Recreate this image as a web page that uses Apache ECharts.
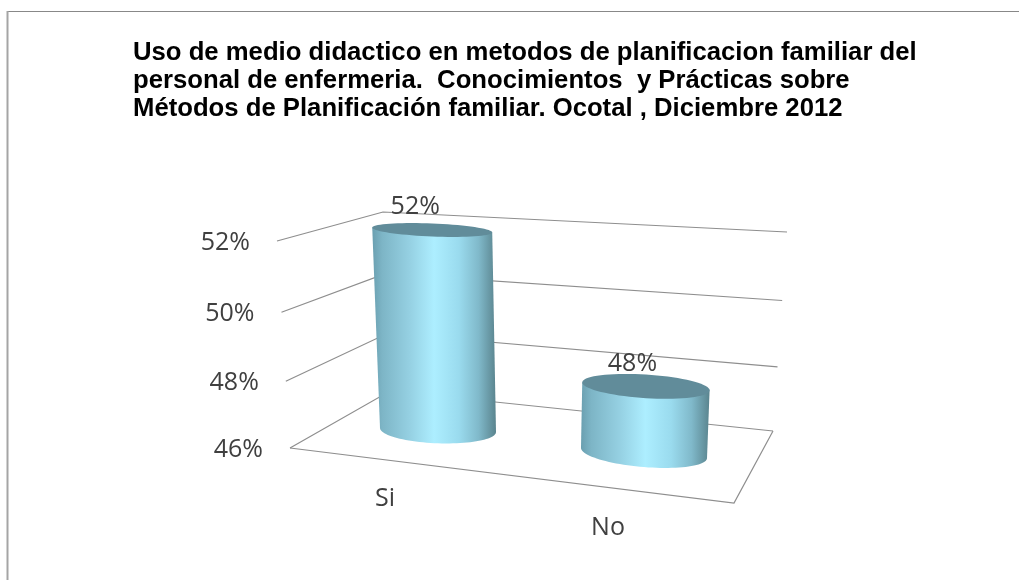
<!DOCTYPE html>
<html><head><meta charset="utf-8">
<style>html,body{margin:0;padding:0;background:#fff}#c{width:1019px;height:580px}</style>
<script src="https://cdn.jsdelivr.net/npm/echarts@6/dist/echarts.min.js"></script>
</head><body><div id="c"></div>
<script>
var titleLines = [
  'Uso de medio didactico en metodos de planificacion familiar del',
  'personal de enfermeria.  Conocimientos  y Prácticas sobre',
  'Métodos de Planificación familiar. Ocotal , Diciembre 2012'
];
var categories = ['Si', 'No'];
var values = [52, 48];
var ticks = [46, 48, 50, 52];
var tickLabels = ['46%', '48%', '50%', '52%'];

// layout of the projected walls (pixels) at the axis minimum and maximum
var WALL = {
  front: [[290, 448], [277, 241]],
  back:  [[390, 391], [383, 212]],
  right: [[773, 431], [787, 232]],
  floorFront: [734, 503]
};
var GRID = {left: 335, top: 241.5, width: 412, height: 200};
var LABEL_FONT = '"Open Sans", sans-serif';
var DATA_OFFSET = [[-17, -23], [-13.5, -22]];
var CAT_OFFSET = [[-53, 69], [-36, 74.5]];
var CX = GRID.left + GRID.width / 2, BOTTOM = GRID.top + GRID.height;

function wallPoint(edge, t) {
  var s = t / (1 + 0.05 * (1 - t));
  return [edge[0][0] + (edge[1][0] - edge[0][0]) * s, edge[0][1] + (edge[1][1] - edge[0][1]) * s];
}
function project(p) {
  var h = BOTTOM - p[1], dx = p[0] - CX;
  return {x: p[0] + 0.00028 * dx * h, y: p[1] + 0.1117 * dx, h: h, dx: dx};
}
function arc(c, a, b, s, from, to, n) {
  var out = [];
  for (var i = 0; i <= n; i++) {
    var th = from + (to - from) * i / n;
    out.push([c.x + a * Math.cos(th), c.y + b * Math.sin(th) + s * a * Math.cos(th)]);
  }
  return out;
}
function halfWidth(q, baseDx) { return 60.5 + 0.0243 * baseDx + 0.01 * q.h; }
function halfDepth(y) { return 6.5 + (y - 230) * 0.034; }

function renderWall(params, api) {
  var v = api.value(1);
  var y = api.coord([0, v])[1];
  var t = (BOTTOM - y) / GRID.height;
  var f = wallPoint(WALL.front, t), b = wallPoint(WALL.back, t), r = wallPoint(WALL.right, t);
  var lineStyle = {stroke: '#8e8e8e', lineWidth: 1.2, fill: null};
  var children = [
    {type: 'polyline', shape: {points: [f, b, r]}, style: lineStyle},
    {type: 'text', style: {
      text: tickLabels[params.dataIndex], x: f[0] - 27, y: f[1] + 2,
      align: 'right', verticalAlign: 'middle',
      font: '25px ' + LABEL_FONT, fill: '#404040'
    }}
  ];
  if (params.dataIndex === 0) {
    children.push({type: 'polyline', shape: {points: [f, WALL.floorFront, r]}, style: lineStyle});
  }
  return {type: 'group', children: children};
}

function renderCylinder(params, api) {
  var i = params.dataIndex;
  var cat = api.value(0), v = api.value(1);
  var baseP = project(api.coord([cat, ticks[0]]));
  var topP = project(api.coord([cat, v]));
  var aB = halfWidth(baseP, baseP.dx), aT = halfWidth(topP, baseP.dx);
  var sB = 0.035 + 0.045 * i, sT = 0.04 + 0.022 * i;
  var bB = halfDepth(baseP.y), bT = halfDepth(topP.y);
  var topEdge = arc(topP, aT, bT, sT, Math.PI, 0, 1);
  var body = topEdge.concat(arc(baseP, aB, bB, sB, 0, Math.PI, 48));
  var grad = new echarts.graphic.LinearGradient(0, 0, 1, 0, [
    {offset: 0, color: '#6a9fb0'},
    {offset: 0.08, color: '#7db5c6'},
    {offset: 0.3, color: '#95d0e2'},
    {offset: 0.5, color: '#adeeff'},
    {offset: 0.7, color: '#9adbee'},
    {offset: 0.86, color: '#80b9ca'},
    {offset: 1, color: '#5a848e'}
  ]);
  var off = DATA_OFFSET[i], co = CAT_OFFSET[i];
  return {type: 'group', children: [
    {type: 'polygon', shape: {points: body}, style: {fill: grad}},
    {type: 'polygon', shape: {points: arc(topP, aT, bT, sT, 0, 2 * Math.PI, 72)}, style: {fill: '#618c9a'}},
    {type: 'text', style: {
      text: v + '%', x: topP.x + off[0], y: topP.y + off[1],
      align: 'center', verticalAlign: 'middle',
      font: '25px ' + LABEL_FONT, fill: '#404040'
    }},
    {type: 'text', style: {
      text: categories[i], x: baseP.x + co[0], y: baseP.y + co[1],
      align: 'center', verticalAlign: 'middle',
      font: '25px ' + LABEL_FONT, fill: '#404040'
    }}
  ]};
}

var chart = echarts.init(document.getElementById('c'), null, {renderer: 'canvas'});
chart.setOption({
  animation: false,
  backgroundColor: '#fff',
  title: {
    text: titleLines.join('\n'), left: 133, top: 39, padding: 0,
    textStyle: {fontFamily: '"Liberation Sans", Arial, sans-serif', fontWeight: 'bold', fontSize: 25.7, lineHeight: 28, color: '#000'}
  },
  graphic: [
    {type: 'line', shape: {x1: 7, y1: 11.5, x2: 1019, y2: 11.5}, style: {stroke: '#888', lineWidth: 1}},
    {type: 'line', shape: {x1: 7.5, y1: 11, x2: 7.5, y2: 580}, style: {stroke: '#a5a5a5', lineWidth: 2}}
  ],
  grid: {left: GRID.left, top: GRID.top, width: GRID.width, height: GRID.height},
  xAxis: {type: 'category', data: categories, show: false},
  yAxis: {type: 'value', min: ticks[0], max: ticks[ticks.length - 1], interval: 2, show: false},
  series: [
    {type: 'custom', name: 'walls', clip: false, silent: true, renderItem: renderWall,
     encode: {x: 0, y: 1}, data: ticks.map(function (t) { return [0, t]; }), z: 1},
    {type: 'custom', name: 'cylinders', clip: false, silent: true, renderItem: renderCylinder,
     encode: {x: 0, y: 1}, data: values.map(function (v, i) { return [i, v]; }), z: 2}
  ]
});
</script></body></html>
